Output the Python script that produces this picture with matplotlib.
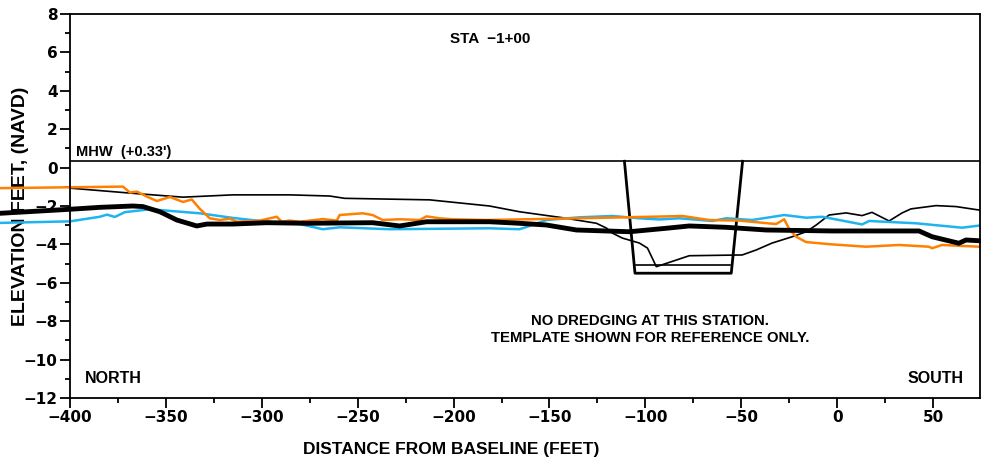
import numpy as np
import matplotlib
matplotlib.use("Agg")
import matplotlib.pyplot as plt
from matplotlib.ticker import MultipleLocator

plt.rcParams['font.family'] = ['Liberation Sans', 'DejaVu Sans']
plt.rcParams['font.weight'] = 'bold'

# thin black profile
thin_x = [-400, -367.2, -341.1, -315.1, -285.4, -264.6, -256.8, -212.5, -181.25, -165.6,
          -143.2, -125.5, -120.3, -117.2, -112.0, -103.1, -98.9, -96.4, -94.3, -89.1,
          -77.1, -49.5, -42.2, -33.9, -23.4, -16.1, -10.9, -4.2, 4.7, 13.0,
          18.2, 27.1, 33.9, 38.5, 51.6, 62.0, 74.0]
thin_y = [-1.07, -1.34, -1.54, -1.42, -1.42, -1.48, -1.60, -1.68, -2.0, -2.30,
          -2.61, -2.90, -3.15, -3.41, -3.67, -3.93, -4.19, -4.71, -5.16, -4.99,
          -4.59, -4.55, -4.29, -3.93, -3.60, -3.34, -2.99, -2.47, -2.36, -2.50,
          -2.33, -2.78, -2.36, -2.15, -1.98, -2.03, -2.21]

# thick black profile
thick_x = [-436.5, -400, -384.4, -367.2, -362.0, -353.1, -344.3, -333.9, -328.6, -315.1,
           -297.4, -276.6, -242.2, -228.1, -214.1, -181.25, -165.6, -151.6, -135.9, -108.3,
           -89.1, -77.1, -57.8, -37.0, -2.6, 42.7, 49.5, 63.5, 67.2, 74.0]
thick_y = [-2.38, -2.17, -2.07, -2.00, -2.03, -2.30, -2.73, -3.04, -2.94, -2.94,
           -2.87, -2.90, -2.87, -3.04, -2.82, -2.82, -2.90, -2.99, -3.25, -3.34,
           -3.16, -3.04, -3.11, -3.25, -3.30, -3.30, -3.60, -3.94, -3.77, -3.81]

# orange profile
orange_x = [-436.5, -372.4, -368.75, -365.1, -359.9, -354.7, -347.9, -341.1, -336.5, -332.3,
            -327.1, -321.9, -316.7, -313.0, -301.0, -292.2, -289.6, -285.4, -280.2, -268.2,
            -260.9, -259.4, -247.4, -242.2, -237.0, -228.1, -217.7, -214.1, -207.3, -200.5,
            -182.8, -134.4, -92.7, -80.7, -66.7, -51.0, -31.8, -27.6, -25.0, -21.4,
            -16.1, -2.6, 15.1, 32.3, 47.9, 49.5, 54.7, 74.0]
orange_y = [-1.07, -0.99, -1.30, -1.25, -1.51, -1.74, -1.53, -1.79, -1.66, -2.15,
            -2.64, -2.73, -2.66, -2.82, -2.76, -2.56, -2.82, -2.76, -2.82, -2.68,
            -2.76, -2.47, -2.38, -2.47, -2.73, -2.69, -2.73, -2.54, -2.64, -2.69,
            -2.73, -2.64, -2.55, -2.52, -2.73, -2.76, -2.94, -2.69, -3.20, -3.60,
            -3.88, -4.00, -4.12, -4.03, -4.12, -4.20, -4.03, -4.12]

# cyan profile
cyan_x = [-436.5, -400, -384.4, -380.7, -376.6, -371.4, -358.3, -341.1, -332.3, -315.1,
          -297.4, -280.2, -268.2, -259.4, -233.3, -181.25, -165.6, -158.9, -151.6, -134.4,
          -117.2, -103.1, -92.7, -82.3, -65.1, -57.8, -44.3, -27.6, -16.1, -7.8,
          13.0, 16.7, 41.1, 65.1, 74.0]
cyan_y = [-2.88, -2.80, -2.56, -2.45, -2.57, -2.32, -2.17, -2.31, -2.38, -2.62,
          -2.82, -2.94, -3.21, -3.11, -3.21, -3.16, -3.21, -2.99, -2.73, -2.59,
          -2.52, -2.64, -2.70, -2.64, -2.78, -2.64, -2.73, -2.47, -2.61, -2.56,
          -2.96, -2.78, -2.90, -3.13, -3.02]

# dredge template
tmpl_x = [-110.9, -105.4, -55.2, -49.3]
tmpl_y = [0.33, -5.5, -5.5, 0.33]
overdepth_x = [-105.0, -55.6]
overdepth_y = [-5.05, -5.05]

mhw = 0.33

fig = plt.figure(figsize=(9.81, 4.66), dpi=100)
ax = fig.add_axes([70 / 981, 68 / 466, 910 / 981, 384 / 466])

ax.axhline(mhw, color='black', lw=1.2)
ax.plot(tmpl_x, tmpl_y, color='black', lw=2.0)
ax.plot(overdepth_x, overdepth_y, color='black', lw=1.2)

ax.plot(thin_x, thin_y, color='black', lw=1.2, clip_on=False)
ax.plot(cyan_x, cyan_y, color='#1eb4f0', lw=1.8, clip_on=False)
ax.plot(orange_x, orange_y, color='#ff8000', lw=1.8, clip_on=False)
ax.plot(thick_x, thick_y, color='black', lw=3.5, clip_on=False)

ax.set_xlim(-400, 74.5)
ax.set_ylim(-12, 8)
ax.xaxis.set_major_locator(MultipleLocator(50))
ax.xaxis.set_minor_locator(MultipleLocator(25))
ax.yaxis.set_major_locator(MultipleLocator(2))
ax.yaxis.set_minor_locator(MultipleLocator(1))
ax.tick_params(which='major', length=7, width=1.3, labelsize=11, pad=2)
ax.tick_params(which='minor', length=3.5, width=1.3)
for lab in ax.get_xticklabels() + ax.get_yticklabels():
    lab.set_fontweight('bold')
    lab.set_family('DejaVu Sans')
for s in ax.spines.values():
    s.set_linewidth(1.3)

ax.text(-397, mhw + 0.12, "MHW  (+0.33')", fontsize=10.5, fontweight='bold', va='bottom')
ax.text(-181, 6.7, "STA  \u22121+00", fontsize=11, fontweight='bold', ha='center', va='center')
ax.text(-392, -11.0, "NORTH", fontsize=11.5, fontweight='bold', va='center')
ax.text(66, -11.0, "SOUTH", fontsize=11.5, fontweight='bold', va='center', ha='right')
ax.text(-97.4, -8.45, "NO DREDGING AT THIS STATION.\nTEMPLATE SHOWN FOR REFERENCE ONLY.",
        fontsize=10.7, fontweight='bold', ha='center', va='center', linespacing=1.25)

ax.set_xlabel("DISTANCE FROM BASELINE (FEET)", fontsize=12.5, fontweight='bold')
ax.xaxis.set_label_coords((451 - 70) / 910, -0.115)
ax.set_ylabel("ELEVATION FEET, (NAVD)", fontsize=14, fontweight='bold')
ax.yaxis.set_label_coords(-0.045, 0.5)

fig.savefig("out.png", dpi=100)
